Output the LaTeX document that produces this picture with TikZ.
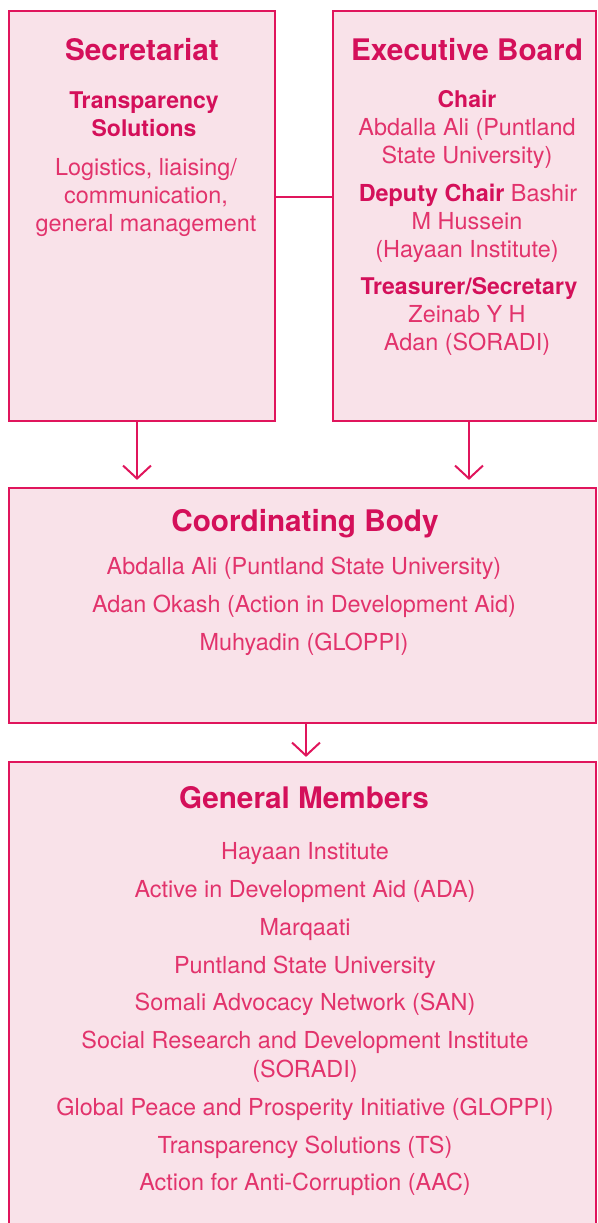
\documentclass[tikz,border=0pt]{standalone}
\usepackage{fontspec}
\setmainfont{TeX Gyre Heros}
\usepackage{xcolor}
\usetikzlibrary{arrows.meta}

\definecolor{boxline}{HTML}{E0155C}
\definecolor{boxfill}{HTML}{F9E2E9}
\definecolor{headcol}{HTML}{D4105A}
\definecolor{bodycol}{HTML}{E2336C}

\tikzset{
  panel/.style={draw=boxline, fill=boxfill, line width=2.2pt, inner sep=0pt},
  head/.style={anchor=base, text=headcol, font=\fontsize{29.7}{34}\selectfont\bfseries},
  sub/.style={anchor=base, text=headcol, font=\fontsize{23}{28}\selectfont\bfseries},
  item/.style={anchor=base, text=bodycol, font=\fontsize{23.4}{28}\selectfont},
  link/.style={draw=boxline, line width=2pt},
  down/.style={link, -{Straight Barb[length=13pt,width=28pt]}}
}

\begin{document}
\begin{tikzpicture}[x=1pt,y=-1pt]
            \useasboundingbox (0,0) rectangle (597,1223);
            \clip (0,0) rectangle (597,1223);

            % boxes
            \node[panel, minimum width=266pt, minimum height=410pt] (sec) at (142,216) {};
            \node[panel, minimum width=263pt, minimum height=410pt] (exb) at (464.5,216) {};
            \node[panel, minimum width=587pt, minimum height=235pt] (cob) at (302.5,605.5) {};
            \node[panel, minimum width=587pt, minimum height=478pt] (gen) at (302.5,1001) {};

            % secretariat
            \node[head] (sec-t) at (142,60) {Secretariat};
            \node[sub] (sec-1) at (144,108) {Transparency};
            \node[sub] (sec-2) at (144,136) {Solutions};
            \node[item] (sec-3) at (146,175) {Logistics, liaising/};
            \node[item] (sec-4) at (146,203) {communication,};
            \node[item] (sec-5) at (146,231) {general management};

            % executive board
            \node[head] (exb-t) at (467,60) {Executive Board};
            \node[sub] (exb-1) at (467,107) {Chair};
            \node[item] (exb-2) at (467,135) {Abdalla Ali (Puntland};
            \node[item] (exb-3) at (467,163) {State University)};
            \node[item] (exb-4) at (468,201) {{\bfseries\color{headcol}Deputy Chair} Bashir};
            \node[item] (exb-5) at (467,229) {M Hussein};
            \node[item] (exb-6) at (467,257) {(Hayaan Institute)};
            \node[sub] (exb-7) at (469,294) {Treasurer/Secretary};
            \node[item] (exb-8) at (467,322) {Zeinab Y H};
            \node[item] (exb-9) at (467,350) {Adan (SORADI)};

            % coordinating body
            \node[head] (cob-t) at (305,531) {Coordinating Body};
            \node[item] (cob-1) at (304,574) {Abdalla Ali (Puntland State University)};
            \node[item] (cob-2) at (304,612) {Adan Okash (Action in Development Aid)};
            \node[item] (cob-3) at (304,650) {Muhyadin (GLOPPI)};

            % general members
            \node[head] (gen-t) at (304,808) {General Members};
            \node[item] (gen-1) at (305,859) {Hayaan Institute};
            \node[item] (gen-2) at (305,897) {Active in Development Aid (ADA)};
            \node[item] (gen-3) at (305,935) {Marqaati};
            \node[item] (gen-4) at (305,973) {Puntland State University};
            \node[item] (gen-5) at (305,1010) {Somali Advocacy Network (SAN)};
            \node[item] (gen-6) at (305,1048) {Social Research and Development Institute};
            \node[item] (gen-7) at (305,1077) {(SORADI)};
            \node[item] (gen-8) at (305,1115) {Global Peace and Prosperity Initiative (GLOPPI)};
            \node[item] (gen-9) at (305,1153) {Transparency Solutions (TS)};
            \node[item] (gen-10) at (305,1190) {Action for Anti-Corruption (AAC)};

            % connectors
            \draw[link] ([yshift=19pt]sec.east) -- ([yshift=19pt]exb.west);
            \draw[down, shorten >=7pt] ([xshift=-5pt]sec.south) -- ([xshift=-5pt]sec.south |- cob.north);
            \draw[down, shorten >=7pt] ([xshift=4.5pt]exb.south) -- ([xshift=4.5pt]exb.south |- cob.north);
            \draw[down, shorten >=4pt] ([xshift=3.5pt]cob.south) -- ([xshift=3.5pt]cob.south |- gen.north);

\end{tikzpicture}
\end{document}
